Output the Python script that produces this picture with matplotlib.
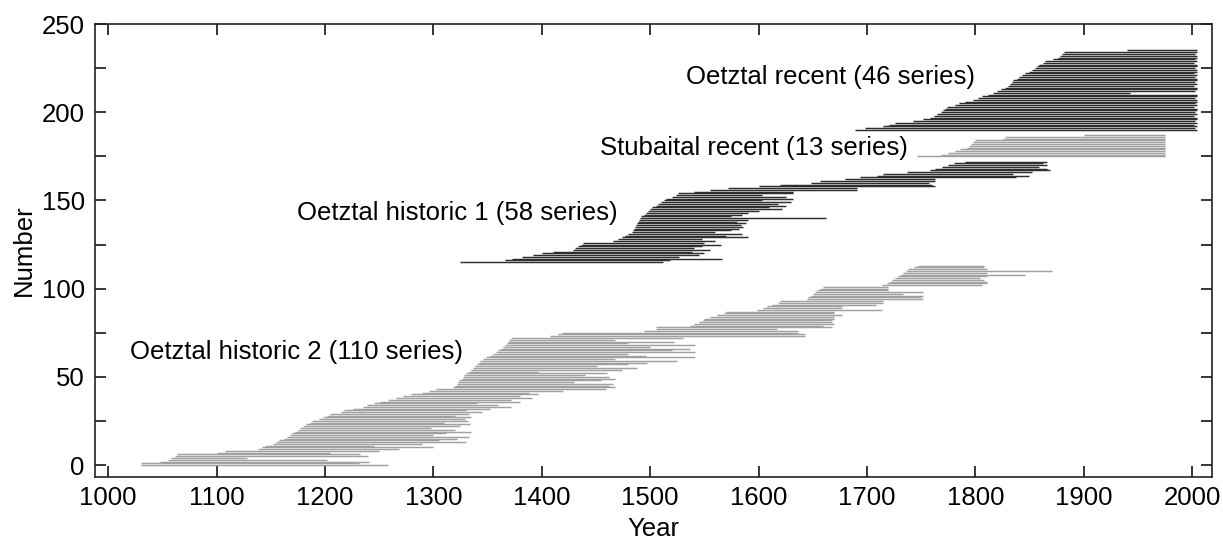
import matplotlib
matplotlib.use("Agg")
import matplotlib.pyplot as plt
from matplotlib.ticker import MultipleLocator

plt.rcParams['font.family'] = ['Liberation Sans', 'DejaVu Sans']

# Oetztal historic 2 (light grey), rows from 0
hist2_first_row = 0
hist2_start = [1030, 1030, 1048, 1055, 1058, 1062, 1064, 1100, 1108, 1138,
               1142, 1145, 1152, 1155, 1158, 1162, 1165, 1168, 1170, 1172,
               1175, 1177, 1180, 1183, 1186, 1188, 1195, 1198, 1202, 1205,
               1215, 1218, 1226, 1235, 1239, 1245, 1251, 1258, 1266, 1272,
               1279, 1290, 1296, 1302, 1318, 1320, 1322, 1323, 1324, 1326,
               1327, 1328, 1330, 1333, 1335, 1337, 1338, 1340, 1342, 1343,
               1346, 1349, 1352, 1355, 1358, 1360, 1362, 1364, 1366, 1368,
               1369, 1370, 1372, 1408, 1415, 1419, 1494, 1505, 1505, 1537,
               1540, 1545, 1549, 1550, 1555, 1562, 1568, 1570, 1599, 1604,
               1608, 1612, 1618, 1620, 1645, 1646, 1648, 1650, 1652, 1654,
               1657, 1659, 1714, 1718, 1721, 1723, 1726, 1729, 1731, 1733,
               1736, 1738, 1743, 1747]
hist2_end = [1258, 1231, 1241, 1202, 1128, 1240, 1232, 1205, 1250, 1268,
             1300, 1245, 1290, 1330, 1305, 1322, 1333, 1300, 1312, 1335,
             1320, 1298, 1325, 1334, 1310, 1332, 1329, 1335, 1320, 1333,
             1345, 1330, 1352, 1372, 1360, 1340, 1380, 1372, 1391, 1380,
             1397, 1388, 1420, 1459, 1468, 1462, 1466, 1430, 1455, 1468,
             1462, 1440, 1460, 1397, 1474, 1488, 1451, 1480, 1497, 1525,
             1468, 1541, 1496, 1480, 1541, 1520, 1537, 1500, 1541, 1480,
             1522, 1468, 1530, 1643, 1643, 1636, 1636, 1617, 1668, 1659,
             1670, 1668, 1668, 1670, 1670, 1677, 1670, 1670, 1714, 1677,
             1677, 1708, 1715, 1715, 1752, 1750, 1752, 1733, 1752, 1719,
             1719, 1719, 1806, 1811, 1811, 1808, 1804, 1811, 1846, 1811,
             1871, 1811, 1808, 1808]

# Oetztal historic 1 (dark grey)
hist1_first_row = 115
hist1_start = [1325, 1366, 1373, 1382, 1392, 1400, 1410, 1429, 1431, 1433,
               1436, 1438, 1466, 1470, 1474, 1477, 1480, 1483, 1484, 1485,
               1486, 1487, 1488, 1489, 1490, 1491, 1492, 1494, 1496, 1498,
               1500, 1502, 1505, 1507, 1510, 1513, 1515, 1520, 1524, 1526,
               1540, 1555, 1572, 1600, 1620, 1648, 1657, 1680, 1694, 1709,
               1715, 1737, 1758, 1763, 1769, 1775, 1780, 1790]
hist1_end = [1512, 1518, 1566, 1527, 1545, 1550, 1539, 1555, 1540, 1548,
             1565, 1550, 1560, 1548, 1590, 1570, 1585, 1560, 1575, 1582,
             1586, 1584, 1588, 1580, 1590, 1662, 1575, 1585, 1590, 1600,
             1622, 1610, 1625, 1618, 1630, 1603, 1632, 1625, 1603, 1632,
             1632, 1691, 1691, 1763, 1760, 1757, 1763, 1763, 1837, 1849,
             1835, 1852, 1869, 1866, 1859, 1866, 1862, 1866]

# Stubaital recent (light grey)
stubai_first_row = 175
stubai_start = [1746, 1768, 1775, 1781, 1786, 1792, 1794, 1796, 1798, 1800,
                1825, 1827, 1900]
stubai_end = [1975, 1975, 1975, 1975, 1975, 1975, 1975, 1975, 1975, 1975,
              1975, 1975, 1975]

# Oetztal recent (dark grey)
recent_first_row = 190
recent_start = [1689, 1698, 1715, 1720, 1726, 1742, 1752, 1758, 1762, 1765,
                1768, 1770, 1772, 1774, 1781, 1785, 1790, 1798, 1802, 1806,
                1812, 1816, 1820, 1824, 1827, 1830, 1832, 1834, 1835, 1838,
                1840, 1843, 1846, 1849, 1852, 1855, 1857, 1859, 1862, 1864,
                1872, 1876, 1878, 1880, 1882, 1940]
recent_end = [2004, 2003, 2004, 2002, 2004, 2003, 2004, 2004, 2002, 2004,
              2003, 2004, 2004, 2002, 2004, 2003, 2004, 2004, 2003, 2004,
              2004, 1943, 2003, 2004, 2004, 2002, 2004, 2003, 2004, 2004,
              2003, 2004, 2002, 2004, 2004, 2003, 2004, 2004, 2002, 2004,
              2003, 2004, 2004, 2003, 2004, 2004]

labels = ["Oetztal historic 2 (110 series)", "Oetztal historic 1 (58 series)",
          "Stubaital recent (13 series)", "Oetztal recent (46 series)"]
label_x = [1020, 1174, 1454, 1533]
label_y = [64, 143, 180, 220]

light = '#a0a0a0'
dark = '#2e2e2e'

fig = plt.figure(figsize=(12.23, 5.42), dpi=100)
ax = fig.add_axes([0.0773, 0.1205, 0.9135, 0.8352])

groups = [
    (hist2_first_row, hist2_start, hist2_end, light),
    (hist1_first_row, hist1_start, hist1_end, dark),
    (stubai_first_row, stubai_start, stubai_end, light),
    (recent_first_row, recent_start, recent_end, dark),
]
for first, starts, ends, col in groups:
    rows = [first + i for i in range(len(starts))]
    ax.hlines(rows, starts, ends, colors=col, linewidth=1.05)

for txt, x, y in zip(labels, label_x, label_y):
    ax.text(x, y, txt, fontsize=18.5, va='center', ha='left', color='black')

ax.set_xlim(987.5, 2018)
ax.set_ylim(-6.6, 250)
ax.xaxis.set_major_locator(MultipleLocator(100))
ax.yaxis.set_major_locator(MultipleLocator(50))
ax.yaxis.set_minor_locator(MultipleLocator(25))
ax.tick_params(which='both', direction='in', top=True, right=True,
               length=8, width=1.1, labelsize=18.5, pad=7)
ax.tick_params(which='minor', length=8)
for s in ax.spines.values():
    s.set_linewidth(1.2)
    s.set_color('#222222')

ax.set_xlabel("Year", fontsize=18.5, labelpad=5)
ax.set_ylabel("Number", fontsize=18.5, labelpad=4)

fig.savefig("out.png", dpi=100)
